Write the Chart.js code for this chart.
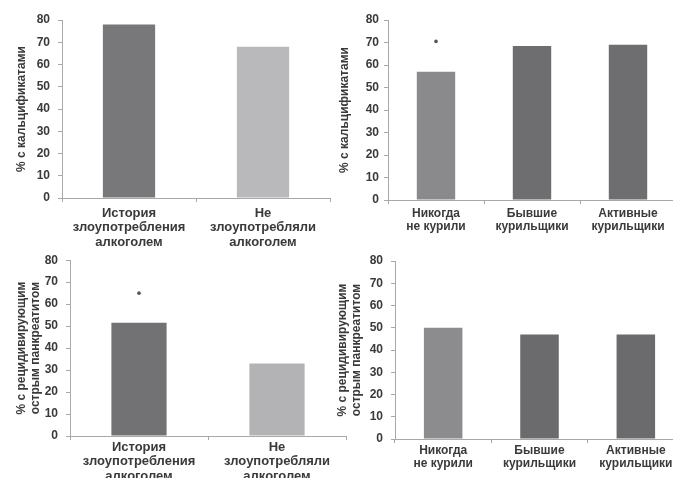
<!DOCTYPE html>
<html>
<head>
<meta charset="utf-8">
<script src="https://cdn.jsdelivr.net/npm/chart.js@4/dist/chart.umd.min.js"></script>
<style>
  html, body { margin: 0; padding: 0; background: #fff; overflow: hidden; width: 673px; height: 478px; }
  canvas { position: absolute; }
</style>
</head>
<body>
<canvas id="c1" width="335" height="250" style="left:0px;top:0px;width:335px;height:250px"></canvas>
<canvas id="c2" width="345" height="250" style="left:335px;top:0px;width:345px;height:250px"></canvas>
<canvas id="c3" width="350" height="233" style="left:0px;top:245px;width:350px;height:233px"></canvas>
<canvas id="c4" width="350" height="233" style="left:335px;top:245px;width:350px;height:233px"></canvas>
<script>
// ---- data ----
const catAlcohol = [["История", "злоупотребления", "алкоголем"], ["Не", "злоупотребляли", "алкоголем"]];
const catSmoking = [["Никогда", "не курили"], ["Бывшие", "курильщики"], ["Активные", "курильщики"]];
const yMin = 0;
const yMax = 80;
const yStep = 10;
const titleCalc = "% с кальцификатами";
const titleRap = ["% с рецидивирующим", "острым панкреатитом"];
const calcAlcohol = [78, 68];
const calcSmoking = [57, 68.5, 69];
const calcSmokingSig = [70.5, null, null];
const rapAlcohol = [51.5, 33];
const rapAlcoholSig = [65, null];
const rapSmoking = [50, 47, 47];

// ---- styles ----
const FONT = "'Liberation Sans', Arial, sans-serif";
const TXT = "#3a3a3a";
const AXIS = "#a8a8a8";

function makeChart(id, o) {
  const datasets = [{
    type: 'bar',
    data: o.values,
    backgroundColor: o.colors,
    borderWidth: 0,
    barPercentage: o.barPct,
    categoryPercentage: 1
  }];
  if (o.sig) {
    datasets.push({
      type: 'line',
      data: o.sig,
      showLine: false,
      pointRadius: 1.8,
      pointBorderWidth: 0,
      pointBackgroundColor: '#555',
      pointBorderColor: '#555'
    });
  }
  return new Chart(document.getElementById(id), {
    data: { labels: o.labels, datasets: datasets },
    options: {
      responsive: false,
      devicePixelRatio: 1,
      animation: false,
      events: [],
      layout: { padding: { left: 0, top: o.top, right: o.right, bottom: 0 } },
      plugins: { legend: { display: false }, tooltip: { enabled: false } },
      scales: {
        x: {
          type: 'category',
          offset: true,
          grid: { display: true, offset: true, drawOnChartArea: false, drawTicks: true, tickLength: 4, color: AXIS },
          border: { display: true, color: AXIS, width: 1 },
          ticks: { color: TXT, padding: o.xPad, autoSkip: false, maxRotation: 0,
                   font: { family: FONT, size: o.xFont, weight: 'bold', lineHeight: 1.12 } },
          afterFit: s => { s.height = o.h - o.bottom; }
        },
        y: {
          min: yMin, max: yMax,
          grid: { display: true, drawOnChartArea: false, drawTicks: true, tickLength: 4, color: AXIS },
          border: { display: true, color: AXIS, width: 1 },
          ticks: { stepSize: yStep, color: TXT, padding: o.yPad,
                   font: { family: FONT, size: 12, weight: 'bold' } },
          title: { display: true, text: o.title, color: TXT,
                   padding: { top: o.titlePad, bottom: 0 },
                   font: { family: FONT, size: 12, weight: 'bold', lineHeight: 1.1 } },
          afterFit: s => { s.width = o.axisX; }
        }
      }
    }
  });
}

makeChart('c1', { labels: catAlcohol, values: calcAlcohol, colors: ['#78787b', '#b9b9bc'],
  barPct: 0.39, top: 20, right: 5, h: 250, bottom: 198, axisX: 62, xPad: 4, yPad: 8, xFont: 13,
  title: titleCalc, titlePad: 15.4 });

makeChart('c2', { labels: catSmoking, values: calcSmoking, sig: calcSmokingSig,
  colors: ['#8a8a8d', '#6e6e71', '#6e6e71'],
  barPct: 0.40, top: 20, right: 2, h: 250, bottom: 200, axisX: 53, xPad: 3, yPad: 5, xFont: 12,
  title: titleCalc, titlePad: 3.4 });

makeChart('c3', { labels: catAlcohol, values: rapAlcohol, sig: rapAlcoholSig,
  colors: ['#727275', '#b3b3b6'],
  barPct: 0.40, top: 13, right: 2, h: 233, bottom: 191, axisX: 70, xPad: 0, yPad: 8, xFont: 13,
  title: titleRap, titlePad: 15.4 });

makeChart('c4', { labels: catSmoking, values: rapSmoking,
  colors: ['#8c8c8f', '#6b6b6e', '#6b6b6e'],
  barPct: 0.40, top: 16, right: 1, h: 233, bottom: 194, axisX: 60, xPad: 1, yPad: 8, xFont: 12,
  title: titleRap, titlePad: 1.4 });
</script>
</body>
</html>
